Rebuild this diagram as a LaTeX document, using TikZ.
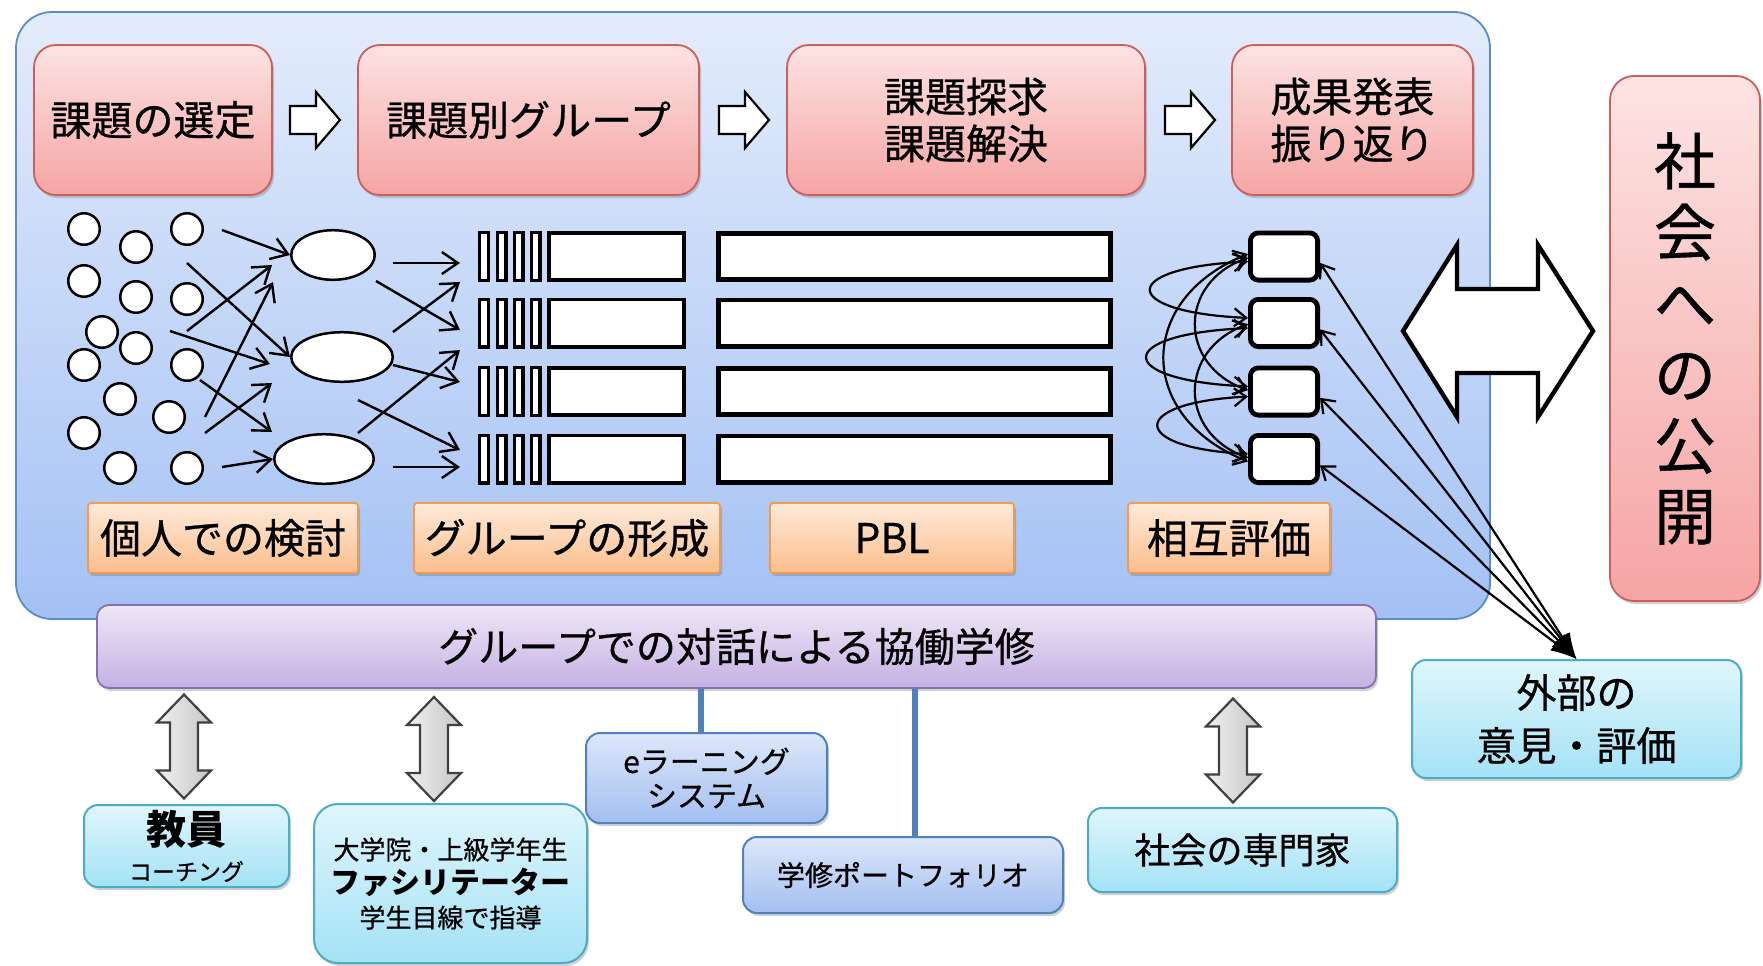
\documentclass[tikz,border=0pt]{standalone}
\usepackage{fontspec}
\setmainfont{Noto Sans CJK JP}[UprightFeatures={FakeBold=0.7}]
\usetikzlibrary{shapes.geometric,arrows.meta,shadows,calc}
\definecolor{bluetop}{HTML}{E3ECFB}
\definecolor{bluebot}{HTML}{A4C1F4}
\definecolor{blueedge}{HTML}{5B8BC9}
\definecolor{pinktop}{HTML}{FDE3E3}
\definecolor{pinkbot}{HTML}{F5A5A4}
\definecolor{pinkedge}{HTML}{C8605C}
\definecolor{orgtop}{HTML}{FEEADA}
\definecolor{orgbot}{HTML}{FBBE8C}
\definecolor{orgedge}{HTML}{F39A4F}
\definecolor{purtop}{HTML}{EEE7F7}
\definecolor{purbot}{HTML}{C5B0E2}
\definecolor{puredge}{HTML}{8A6FB0}
\definecolor{cyantop}{HTML}{E0F6FC}
\definecolor{cyanbot}{HTML}{A3E2F6}
\definecolor{cyanedge}{HTML}{4BACC6}
\definecolor{lbtop}{HTML}{DDE7FA}
\definecolor{lbbot}{HTML}{A3BFF0}
\definecolor{lbedge}{HTML}{4F81BD}
\definecolor{linkblue}{HTML}{4F81BD}
\tikzset{
  lbl/.style={inner sep=0pt, align=center, text=black},
  shd/.style={drop shadow={shadow xshift=1pt, shadow yshift=-1.5pt, opacity=0.3, fill=black!60}},
  mainbox/.style={draw=blueedge, line width=0.9pt, rounded corners=18pt, top color=bluetop, bottom color=bluebot, inner sep=0pt},
  pinkbox/.style={lbl, shd, draw=pinkedge, line width=0.9pt, rounded corners=11pt, top color=pinktop, bottom color=pinkbot, font=\fontsize{20.5}{23.5}\selectfont},
  orgbox/.style={lbl, shd, draw=orgedge, line width=0.9pt, rounded corners=1.5pt, top color=orgtop, bottom color=orgbot, minimum height=35pt, font=\fontsize{20.5}{24}\selectfont},
  purbox/.style={lbl, shd, draw=puredge, line width=0.9pt, rounded corners=6pt, top color=purtop, bottom color=purbot, font=\fontsize{20}{24}\selectfont},
  cyanbox/.style={lbl, shd, draw=cyanedge, line width=1pt, rounded corners=7pt, top color=cyantop, bottom color=cyanbot},
  lbbox/.style={lbl, shd, draw=lbedge, line width=1pt, rounded corners=7pt, top color=lbtop, bottom color=lbbot},
  person/.style={circle, draw, line width=1.25pt, fill=white, minimum size=15.75pt, inner sep=0pt},
  grp/.style={ellipse, draw, line width=1.25pt, fill=white, inner sep=0pt},
  slat/.style={draw, line width=1.6pt, fill=white, minimum width=4.4pt, minimum height=23.9pt, inner sep=0pt},
  gbar/.style={draw, line width=1.9pt, fill=white, minimum width=67.6pt, minimum height=23.6pt, inner sep=0pt},
  pbar/.style={draw, line width=2.4pt, fill=white, minimum width=196pt, minimum height=23.1pt, inner sep=0pt},
  evbox/.style={draw, line width=2.4pt, fill=white, rounded corners=4pt, minimum width=33.6pt, minimum height=23.6pt, inner sep=0pt},
  thinarr/.style={line width=1.2pt, -{Straight Barb[length=8pt,width=11pt]}},
  evarr/.style={line width=1.1pt, {Straight Barb[length=6pt,width=9pt]}-{Straight Barb[length=6pt,width=9pt]}},
  extarr/.style={line width=1.1pt, {Latex[length=13pt,width=9pt]}-{Straight Barb[length=6pt,width=9pt]}},
  linkline/.style={draw=linkblue, line width=3pt},
  hollowarrow/.pic={\draw[line width=1.1pt, fill=white] (-25,-14) -- (1,-14) -- (1,-28) -- (25,0) -- (1,28) -- (1,14) -- (-25,14) -- cycle;},
  bigdarrow/.pic={\draw[line width=2.2pt, fill=white] (-95,0) -- (-41,-86) -- (-41,-42) -- (40,-42) -- (40,-86) -- (95,0) -- (40,86) -- (40,42) -- (-41,42) -- (-41,86) -- cycle;},
  graydarrow/.pic={\draw[line width=1.1pt, draw=black!75, left color=gray!12, right color=gray!45] (0,-52) -- (27,-24) -- (14,-24) -- (14,24) -- (27,24) -- (0,52) -- (-27,24) -- (-14,24) -- (-14,-24) -- (-27,-24) -- cycle;}
}
\begin{document}
\begin{tikzpicture}[x=0.5pt,y=-0.5pt]
\fill[white] (0,0) rectangle (1763,965);
\path[use as bounding box] (0,0) rectangle (1763,965);

% main blue panel
\node[mainbox, minimum width=737pt, minimum height=303.5pt] (main) at (753,315.5) {};

% top process boxes
\node[pinkbox, minimum width=119pt, minimum height=75pt] (p1) at (153,120) {課題の選定};
\node[pinkbox, minimum width=170.5pt, minimum height=75pt] (p2) at (528.5,120) {課題別グループ};
\node[pinkbox, minimum width=179pt, minimum height=75pt] (p3) at (966,120) {課題探求\\課題解決};
\node[pinkbox, minimum width=120.5pt, minimum height=75pt] (p4) at (1352.5,120) {成果発表\\振り返り};
\pic (ha1) at (315,120) {hollowarrow};
\pic (ha2) at (744,120) {hollowarrow};
\pic (ha3) at (1190,120) {hollowarrow};

% individuals
\node[person] (c1) at (84,229) {};
\node[person] (c2) at (136,247) {};
\node[person] (c3) at (187,229) {};
\node[person] (c4) at (84,281) {};
\node[person] (c5) at (136,297) {};
\node[person] (c6) at (187,299) {};
\node[person] (c7) at (102,332) {};
\node[person] (c8) at (136,348) {};
\node[person] (c9) at (84,365) {};
\node[person] (c10) at (187,365) {};
\node[person] (c11) at (120,399) {};
\node[person] (c12) at (169,417) {};
\node[person] (c13) at (84,433) {};
\node[person] (c14) at (120,468) {};
\node[person] (c15) at (187,468) {};

% groups
\node[grp, minimum width=41.8pt, minimum height=24.8pt] (E1) at (333,255) {};
\node[grp, minimum width=50.8pt, minimum height=24.8pt] (E2) at (342,357) {};
\node[grp, minimum width=49.8pt, minimum height=24.8pt] (E3) at (324,459) {};

\coordinate (t1) at (222,230);
\coordinate (t2) at (187,263);
\coordinate (t3) at (187,331); \coordinate (h3) at (272,265);
\coordinate (t4) at (205,417); \coordinate (h4) at (273,282);
\coordinate (t5) at (170,331); \coordinate (h5) at (270,364);
\coordinate (t6) at (200,380); \coordinate (h6) at (272,432);
\coordinate (t7) at (205,433); \coordinate (h7) at (272,383);
\coordinate (t8) at (222,467);
\draw[thinarr] (t1) -- (E1.west);
\draw[thinarr] (t2) -- (E2.west);
\draw[thinarr] (t3) -- (h3);
\draw[thinarr] (t4) -- (h4);
\draw[thinarr] (t5) -- (h5);
\draw[thinarr] (t6) -- (h6);
\draw[thinarr] (t7) -- (h7);
\draw[thinarr] (t8) -- (E3.west);

% group bars
\foreach \r/\y in {1/256.5,2/323,3/391.5,4/459}{
  \node[slat] (s\r a) at (484,\y) {};
  \node[slat] (s\r b) at (501.5,\y) {};
  \node[slat] (s\r c) at (518.5,\y) {};
  \node[slat] (s\r d) at (535.5,\y) {};
  \node[gbar] (g\r) at (616.5,\y) {};
  \node[pbar] (b\r) at (914.5,\y) {};
  \node[evbox] (v\r) at (1284,\y) {};
}

\coordinate (u1) at (393,263); \coordinate (w1) at (460,263);
\coordinate (u2) at (376,281); \coordinate (w2) at (460,330);
\coordinate (u3) at (393,332); \coordinate (w3) at (460,282);
\coordinate (u4) at (393,365); \coordinate (w4) at (460,382);
\coordinate (u5) at (358,433); \coordinate (w5) at (460,350);
\coordinate (u6) at (358,400); \coordinate (w6) at (460,450);
\coordinate (u7) at (393,467); \coordinate (w7) at (460,467);
\foreach \i in {1,...,7}{\draw[thinarr] (u\i) -- (w\i);}

% mutual evaluation curves
\draw[evarr] (v1.188) .. controls +(-130,6) and +(-130,-6) .. (v2.172);
\draw[evarr] (v2.188) .. controls +(-135,6) and +(-135,-6) .. (v3.172);
\draw[evarr] (v3.188) .. controls +(-120,6) and +(-120,-6) .. (v4.172);
\draw[evarr] (v1.182) .. controls +(-70,25) and +(-70,-25) .. (v3.178);
\draw[evarr] (v2.182) .. controls +(-70,25) and +(-70,-25) .. (v4.178);
\draw[evarr] (v1.176) .. controls +(-112,45) and +(-112,-45) .. (v4.184);

% labels
\node[orgbox, minimum width=135pt] (o1) at (223,538) {個人での検討};
\node[orgbox, minimum width=153pt] (o2) at (567,538) {グループの形成};
\node[orgbox, minimum width=122pt] (o3) at (892,538) {PBL};
\node[orgbox, minimum width=101pt] (o4) at (1229,538) {相互評価};

% exchange with society
\pic (bda) at (1498,331) {bigdarrow};
\node[pinkbox, rounded corners=12pt, minimum width=75pt, minimum height=262.5pt, font=\fontsize{31}{35.5}\selectfont] (pub) at (1685,338.5) {社\\会\\へ\\の\\公\\開};

% collaboration bar
\node[purbox, minimum width=639.5pt, minimum height=41.5pt] (collab) at (736.5,646.5) {グループでの対話による協働学修};

% bottom boxes
\node[cyanbox, minimum width=102.5pt, minimum height=41pt, font=\fontsize{11.5}{18}\selectfont] (teach) at (186.5,846) {{\fontsize{20}{18}\selectfont\bfseries 教員}\\コーチング};
\node[cyanbox, rounded corners=12pt, minimum width=136.5pt, minimum height=79.5pt, font=\fontsize{13}{17}\selectfont] (facil) at (450.5,883.5) {大学院・上級学年生\\{\fontsize{15}{17}\selectfont\bfseries ファシリテーター}\\学生目線で指導};
\node[lbbox, minimum width=120.5pt, minimum height=45pt, font=\fontsize{15}{17}\selectfont] (elearn) at (706.5,778) {eラーニング\\システム};
\node[lbbox, minimum width=160pt, minimum height=38pt, font=\fontsize{14}{17}\selectfont] (port) at (903,875) {学修ポートフォリオ};
\node[cyanbox, minimum width=154.5pt, minimum height=42pt, font=\fontsize{18}{22}\selectfont] (expert) at (1242.5,850) {社会の専門家};
\node[cyanbox, minimum width=164.5pt, minimum height=59pt, font=\fontsize{20}{26.5}\selectfont] (ext) at (1576.5,719) {外部の\\意見・評価};

% links
\coordinate (l1) at ([xshift=-3pt]elearn.north);
\coordinate (l2) at ([xshift=6pt]port.north);
\draw[linkline] (l1) -- (l1 |- collab.south);
\draw[linkline] (l2) -- (l2 |- collab.south);
\pic (gd1) at (184,746.5) {graydarrow};
\pic (gd2) at (434,749) {graydarrow};
\pic (gd3) at (1233,750.5) {graydarrow};

% evaluation to outside
\foreach \r in {1,...,4}{\draw[extarr] (ext.north) -- (v\r.-10);}
\end{tikzpicture}
\end{document}
